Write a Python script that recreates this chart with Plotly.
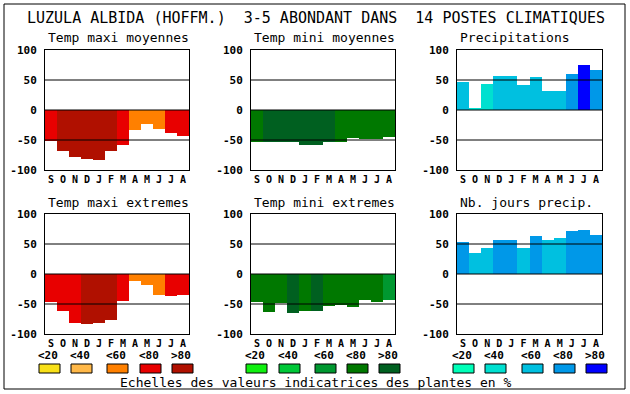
import plotly.graph_objects as go

W, H = 630, 394

title_text = "LUZULA ALBIDA (HOFFM.)  3-5 ABONDANT DANS  14 POSTES CLIMATIQUES"
months = ["S", "O", "N", "D", "J", "F", "M", "A", "M", "J", "J", "A"]
panel_titles = ["Temp maxi moyennes", "Temp mini moyennes", "Precipitations",
                "Temp maxi extremes", "Temp mini extremes", "Nb. jours precip."]

tmax_moy = [-52, -68, -78, -81, -84, -68, -58, -33, -23, -32, -38, -43]
tmax_moy_class = [3, 4, 4, 4, 4, 4, 3, 2, 2, 2, 3, 3]
tmin_moy = [-53, -54, -54, -54, -58, -58, -53, -53, -47, -48, -48, -45]
tmin_moy_class = [3, 4, 4, 4, 4, 4, 4, 3, 3, 3, 3, 3]
precip = [46, 3, 43, 57, 57, 42, 55, 32, 32, 60, 75, 67]
precip_class = [2, 1, 1, 2, 2, 2, 2, 2, 2, 3, 4, 3]
tmax_ext = [-47, -62, -82, -83, -82, -77, -45, -11, -18, -35, -37, -35]
tmax_ext_class = [3, 3, 3, 4, 4, 4, 3, 2, 2, 2, 3, 3]
tmin_ext = [-47, -63, -48, -65, -62, -62, -53, -52, -55, -43, -47, -43]
tmin_ext_class = [3, 3, 3, 4, 3, 4, 3, 3, 3, 3, 3, 2]
nb_jours = [53, 35, 43, 57, 57, 43, 63, 57, 60, 72, 73, 65]
nb_jours_class = [3, 2, 2, 3, 3, 2, 3, 2, 2, 3, 3, 3]

legend_labels = ["<20", "<40", "<60", "<80", ">80"]
footer_text = "Echelles des valeurs indicatrices des plantes en %"
y_ticks = [100, 50, 0, -50, -100]

pal_red = ["#F8E018", "#FFB848", "#FF8000", "#E80000", "#B01000"]
pal_green = ["#10F010", "#00C838", "#009830", "#007800", "#006020"]
pal_blue = ["#00FFB8", "#00E0D0", "#00C0E0", "#0098E8", "#0000FF"]

series = [
    (tmax_moy, tmax_moy_class, pal_red),
    (tmin_moy, tmin_moy_class, pal_green),
    (precip, precip_class, pal_blue),
    (tmax_ext, tmax_ext_class, pal_red),
    (tmin_ext, tmin_ext_class, pal_green),
    (nb_jours, nb_jours_class, pal_blue),
]

MONO = "DejaVu Sans Mono"
px_x = [(45, 189), (251, 395), (457, 602)]
px_y = [(50, 170), (214, 334)]

def fx(x):
    return x / W

def fy(y):
    return 1 - y / H

fig = go.Figure()
shapes = []
annotations = []
layout = {}

for i, (vals, cls, pal) in enumerate(series):
    r, c = divmod(i, 3)
    n = i + 1
    xa = "x" if n == 1 else f"x{n}"
    ya = "y" if n == 1 else f"y{n}"
    fig.add_trace(go.Bar(
        x=list(range(len(months))), y=vals,
        marker=dict(color=[pal[k] for k in cls], line=dict(width=0)),
        width=1.0, xaxis=xa, yaxis=ya, showlegend=False, hoverinfo="skip",
    ))
    x0, x1 = px_x[c]
    y0, y1 = px_y[r]
    axname = "xaxis" if n == 1 else f"xaxis{n}"
    ayname = "yaxis" if n == 1 else f"yaxis{n}"
    layout[axname] = dict(
        domain=[fx(x0), fx(x1)], anchor=ya, range=[-0.5, 11.5],
        tickvals=list(range(12)), ticktext=months,
        showgrid=False, zeroline=False, showline=True, mirror=True,
        linecolor="black", linewidth=1, ticks="",
        layer="above traces",
        tickfont=dict(family=MONO, size=10, color="black", weight="bold"),
        fixedrange=True, automargin=False,
    )
    layout[ayname] = dict(
        domain=[fy(y1), fy(y0)], anchor=xa, range=[-100, 100],
        tickvals=y_ticks, ticktext=[str(v) for v in y_ticks],
        showgrid=False, zeroline=False, showline=True, mirror=True,
        linecolor="black", linewidth=1, ticks="outside", ticklen=5,
        tickcolor="rgba(0,0,0,0)", layer="above traces",
        tickfont=dict(family=MONO, size=11, color="black", weight="bold"),
        fixedrange=True, automargin=False,
    )
    for yv in (50, 0, -50):
        shapes.append(dict(type="line", xref=f"{xa} domain", yref=ya,
                           x0=0, x1=1, y0=yv, y1=yv,
                           line=dict(color="black", width=1), layer="above"))
    annotations.append(dict(text=panel_titles[i], x=fx(x0 + 1), y=fy(y0 - 12),
                            xref="paper", yref="paper", xanchor="left", yanchor="middle",
                            showarrow=False,
                            font=dict(family=MONO, size=13, color="black")))

# legend swatches
sw_x = [[39, 71, 107, 140, 172], [246, 279, 315, 347, 379], [453, 485, 522, 554, 586]]
for g, pal in enumerate([pal_red, pal_green, pal_blue]):
    for k, lab in enumerate(legend_labels):
        sx = sw_x[g][k]
        shapes.append(dict(type="rect", xref="paper", yref="paper",
                           x0=fx(sx), x1=fx(sx + 21), y0=fy(373), y1=fy(364),
                           fillcolor=pal[k], line=dict(color="black", width=1)))
        annotations.append(dict(text=lab, x=fx(sx + 9), y=fy(355), xref="paper", yref="paper",
                                xanchor="center", yanchor="middle", showarrow=False,
                                font=dict(family=MONO, size=11, color="black", weight="bold")))

# outer frame
shapes.append(dict(type="rect", xref="paper", yref="paper",
                   x0=fx(4), x1=fx(625), y0=fy(389), y1=fy(4),
                   line=dict(color="black", width=1), fillcolor="rgba(0,0,0,0)"))

annotations.append(dict(text=title_text, x=fx(316), y=fy(18), xref="paper", yref="paper",
                        xanchor="center", yanchor="middle", showarrow=False,
                        font=dict(family=MONO, size=15, color="black")))
annotations.append(dict(text=footer_text, x=fx(316), y=fy(382), xref="paper", yref="paper",
                        xanchor="center", yanchor="middle", showarrow=False,
                        font=dict(family=MONO, size=13, color="black")))

fig.update_layout(
    width=W, height=H, margin=dict(l=0, r=0, t=0, b=0, pad=0), autosize=False,
    paper_bgcolor="white", plot_bgcolor="white",
    bargap=0, shapes=shapes, annotations=annotations, **layout,
)

fig.write_html(
    "out.html",
    config={"displayModeBar": False, "responsive": False},
    post_script="document.body.style.margin='0';document.body.style.padding='0';document.body.style.overflow='hidden';",
)
